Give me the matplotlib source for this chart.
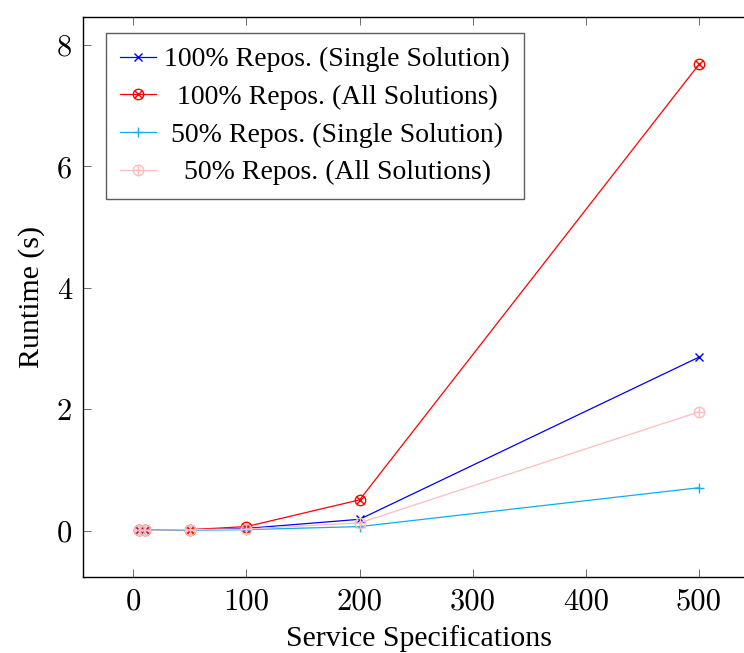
import matplotlib
matplotlib.use("Agg")
import matplotlib.pyplot as plt
from matplotlib.path import Path

# Number of service specifications evaluated
specs = [5, 10, 50, 100, 200, 500]

# Runtime in seconds per configuration
full_single = [0.01, 0.01, 0.02, 0.04, 0.19, 2.86]
full_all = [0.01, 0.01, 0.02, 0.07, 0.51, 7.68]
half_single = [0.01, 0.01, 0.01, 0.02, 0.07, 0.71]
half_all = [0.01, 0.01, 0.02, 0.03, 0.13, 1.96]

series_labels = [
    "100% Repos. (Single Solution)",
    "100% Repos. (All Solutions)",
    "50% Repos. (Single Solution)",
    "50% Repos. (All Solutions)",
]
x_ticks = [0, 100, 200, 300, 400, 500]
y_ticks = [0, 2, 4, 6, 8]

# circle-with-cross markers
d = 0.7071
otimes = Path.make_compound_path(
    Path.unit_circle(),
    Path([(-d, -d), (d, d)]),
    Path([(-d, d), (d, -d)]),
)
oplus = Path.make_compound_path(
    Path.unit_circle(),
    Path([(-1, 0), (1, 0)]),
    Path([(0, -1), (0, 1)]),
)

W, H, DPI = 744, 653, 100
fig = plt.figure(figsize=(W / DPI, H / DPI), dpi=DPI)
left, right, top, bottom = 83, 755, 17, 577
ax = fig.add_axes([left / W, 1 - bottom / H, (right - left) / W, (bottom - top) / H])

lw = 0.9
ax.plot(specs, full_single, color="#0000ff", lw=lw, marker="x", ms=5.5, mew=1.0,
        label=series_labels[0])
ax.plot(specs, full_all, color="#ff0000", lw=lw, marker=otimes, ms=7.5, mew=1.0,
        mfc="none", label=series_labels[1])
ax.plot(specs, half_single, color="#10aeea", lw=lw, marker="+", ms=7.5, mew=1.0,
        label=series_labels[2])
ax.plot(specs, half_all, color="#ffbcbc", lw=lw, marker=oplus, ms=7.5, mew=1.0,
        mfc="none", label=series_labels[3])

ax.set_xlim(-44.5, 549.5)
ax.set_ylim(-0.76, 8.46)
ax.set_xticks(x_ticks)
ax.set_yticks(y_ticks)

tick_font = {"family": "cmr10", "size": 22}
ax.set_xticklabels([str(v) for v in x_ticks], fontdict=tick_font)
ax.set_yticklabels([str(v) for v in y_ticks], fontdict=tick_font)
ax.tick_params(direction="in", length=6, width=0.6, top=True, right=True,
               color="#555555", pad=8)
for s in ax.spines.values():
    s.set_linewidth(1.0)

label_font = {"family": "Liberation Serif", "size": 21.5}
ax.set_xlabel("Service Specifications", fontdict=label_font, labelpad=7)
ax.set_ylabel("Runtime (s)", fontdict=label_font, labelpad=8)

leg = ax.legend(loc="upper left", bbox_to_anchor=(23 / (right - left), 1 - 16 / (bottom - top)),
                prop={"family": "Liberation Serif", "size": 20},
                frameon=True, fancybox=False, edgecolor="#333333",
                handlelength=1.3, handletextpad=0.3, labelspacing=0.44,
                borderpad=0.5, borderaxespad=0)
leg.get_frame().set_linewidth(1.0)

# centre each legend label within the label column
fig.canvas.draw()
renderer = fig.canvas.get_renderer()
widths = [t.get_window_extent(renderer).width for t in leg.get_texts()]
wmax = max(widths)
for t, w in zip(leg.get_texts(), widths):
    t.set_x((wmax - w) / 2)

fig.savefig("out.png", dpi=DPI)
